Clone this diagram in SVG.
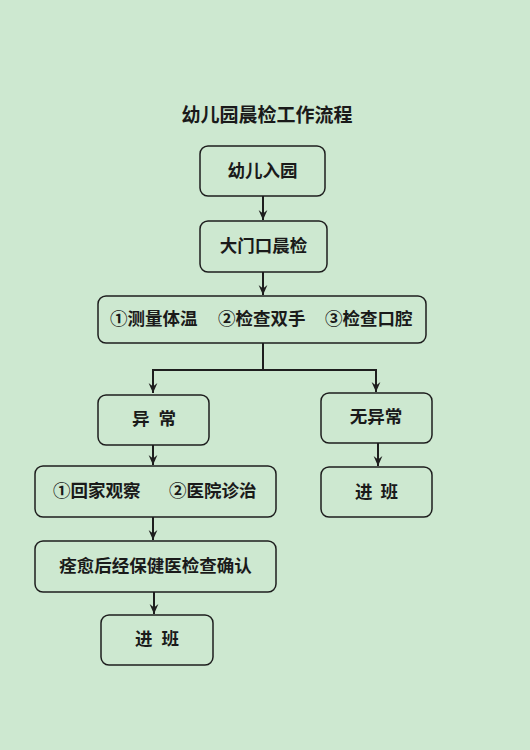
<svg xmlns="http://www.w3.org/2000/svg" width="530" height="750" viewBox="0 0 530 750">
<defs>
<style>
.bg{fill:#cde8d0}
.box{fill:#cde8d0;stroke:#1e1e1e;stroke-width:1.5}
.t{font-family:"Noto Sans CJK SC","Noto Sans CJK JP",sans-serif;font-weight:bold;font-size:17.5px;fill:#1a1a1a}
.title{font-family:"Noto Sans CJK SC","Noto Sans CJK JP",sans-serif;font-weight:bold;font-size:19px;fill:#1a1a1a}
.c{text-anchor:middle}
.ln{fill:none;stroke:#1e1e1e;stroke-width:2}
</style>
<marker id="ar" viewBox="0 0 10 10" refX="9" refY="5" markerWidth="5.5" markerHeight="5.5" orient="auto" markerUnits="strokeWidth">
<path d="M0,1 L9,5 L0,9 L3,5 Z" fill="#1e1e1e"/>
</marker>
</defs>
<rect class="bg" x="0" y="0" width="530" height="750"/>
<text class="title c" x="267" y="122">幼儿园晨检工作流程</text>
<g id="connectors">
<line class="ln" x1="263" y1="196" x2="263" y2="220" marker-end="url(#ar)"/>
<line class="ln" x1="263" y1="272" x2="263" y2="295" marker-end="url(#ar)"/>
<polyline class="ln" points="263,343 263,370 153,370 153,393" marker-end="url(#ar)"/>
<polyline class="ln" points="263,370 376,370 376,392" marker-end="url(#ar)"/>
<line class="ln" x1="153" y1="445" x2="153" y2="465" marker-end="url(#ar)"/>
<line class="ln" x1="378" y1="443" x2="378" y2="466" marker-end="url(#ar)"/>
<line class="ln" x1="153" y1="517" x2="153" y2="540" marker-end="url(#ar)"/>
<line class="ln" x1="154" y1="592" x2="154" y2="614" marker-end="url(#ar)"/>
</g>
<g id="n1"><rect class="box" x="200" y="146" width="125" height="50" rx="8"/><text class="t c" x="262.5" y="177">幼儿入园</text></g>
<g id="n2"><rect class="box" x="200" y="221" width="127" height="51" rx="8"/><text class="t c" x="263.5" y="252">大门口晨检</text></g>
<g id="n3"><rect class="box" x="98" y="296" width="328" height="47" rx="8"/>
<text class="t" x="110" y="325">①测量体温</text><text class="t" x="218" y="325">②检查双手</text><text class="t" x="325" y="325">③检查口腔</text></g>
<g id="n4"><rect class="box" x="98" y="395" width="111" height="50" rx="8"/><text class="t" y="425"><tspan x="132">异</tspan><tspan x="158.5">常</tspan></text></g>
<g id="n5"><rect class="box" x="321" y="393" width="111" height="50" rx="8"/><text class="t c" x="376" y="423">无异常</text></g>
<g id="n6"><rect class="box" x="35" y="466" width="241" height="51" rx="8"/>
<text class="t" x="53" y="497">①回家观察</text><text class="t" x="169" y="497">②医院诊治</text></g>
<g id="n7"><rect class="box" x="321" y="467" width="111" height="50" rx="8"/><text class="t" y="498"><tspan x="355">进</tspan><tspan x="380.5">班</tspan></text></g>
<g id="n8"><rect class="box" x="35" y="541" width="241" height="51" rx="8"/><text class="t c" x="155.5" y="572">痊愈后经保健医检查确认</text></g>
<g id="n9"><rect class="box" x="101" y="615" width="112" height="50" rx="8"/><text class="t" y="645"><tspan x="135">进</tspan><tspan x="161.5">班</tspan></text></g>
</svg>
